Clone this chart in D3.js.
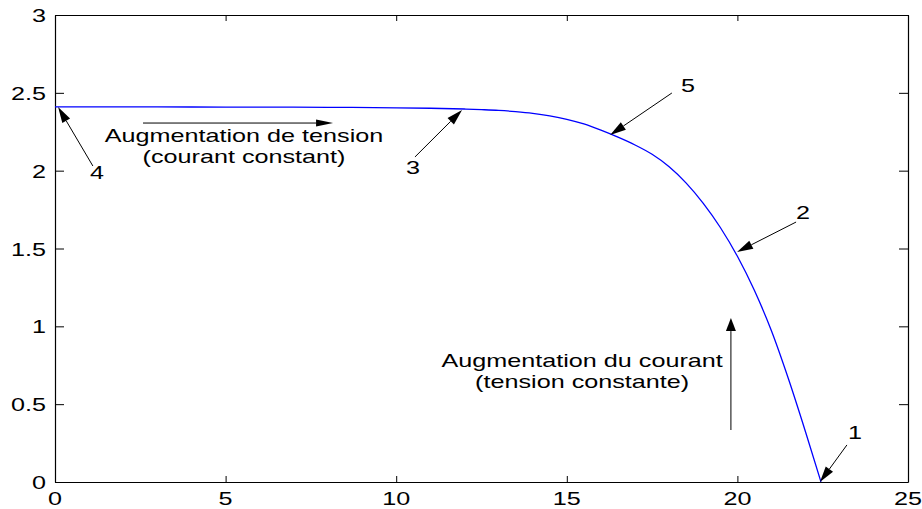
<!DOCTYPE html>
<html>
<head>
<meta charset="utf-8">
<script src="https://cdn.jsdelivr.net/npm/d3@7"></script>
<style>
  html, body { margin: 0; padding: 0; background: #fff; }
  svg { display: block; }
  text { font-family: "Liberation Sans", Arial, Helvetica, sans-serif; fill: #000; }
</style>
</head>
<body>
<svg id="chart" width="922" height="509"></svg>
<script>
// I-V characteristic of the PV generator (voltage in V, current in A)
const voltage = [0, 2, 4, 6, 8, 10, 11, 12, 12.5, 13, 13.5, 14, 14.5, 15, 15.5, 16, 16.5, 17, 17.5, 18, 18.5, 19, 19.5, 20, 20.5, 21, 21.5, 22, 22.45];
const current = [2.41, 2.4095, 2.409, 2.408, 2.407, 2.404, 2.401, 2.396, 2.392, 2.387, 2.379, 2.368, 2.352, 2.33, 2.30, 2.26, 2.215, 2.165, 2.105, 2.025, 1.92, 1.79, 1.635, 1.45, 1.23, 0.97, 0.66, 0.32, 0];

const xTicks = [0, 5, 10, 15, 20, 25];
const yTicks = [0, 0.5, 1, 1.5, 2, 2.5, 3];
const xTickLabels = ["0", "5", "10", "15", "20", "25"];
const yTickLabels = ["0", "0.5", "1", "1.5", "2", "2.5", "3"];

// Numbered operating points: arrow tip on the curve, arrow tail, label position
const pointLabels = ["4", "3", "5", "2", "1"];
const tipV  = [0.09, 11.93, 16.27, 19.99, 22.42];
const tipI  = [2.409, 2.39, 2.229, 1.477, 0.0];
const tailV = [1.11, 10.55, 18.08, 21.72, 23.21];
const tailI = [2.03, 2.088, 2.499, 1.67, 0.238];
const labV  = [1.23, 10.49, 18.55, 21.92, 23.45];
const labI  = [1.99, 2.024, 2.55, 1.734, 0.321];

// Direction arrows with their captions
const hArrowV = [2.58, 8.15], hArrowI = 2.306;
const hCaption = ["Augmentation de tension", "(courant constant)"];
const hCaptionV = 5.54, hCaptionI = [2.184, 2.05];
const vArrowV = 19.81, vArrowI = [0.334, 1.053];
const vCaption = ["Augmentation du courant", "(tension constante)"];
const vCaptionV = 15.45, vCaptionI = [0.738, 0.604];

const W = 922, H = 509;
const margin = { left: 55, top: 15, right: 14, bottom: 27 };
const sx = 1.4;           // horizontal stretch of the lettering
const fontSize = 18;

const svg = d3.select("#chart");
const x = d3.scaleLinear().domain([0, 25]).range([margin.left, W - margin.right]);
const y = d3.scaleLinear().domain([0, 3]).range([H - margin.bottom, margin.top]);

// stretched text helper
function label(g, px, py, str, anchor) {
  g.append("g")
    .attr("transform", `translate(${px},${py}) scale(${sx},1)`)
    .append("text")
    .attr("text-anchor", anchor || "middle")
    .attr("font-size", fontSize)
    .text(str);
}

// axes (ticks pointing inward, box all around)
const axes = svg.append("g");
axes.append("g")
  .attr("transform", `translate(0,${y(0)})`)
  .call(d3.axisBottom(x).tickValues(xTicks).tickSizeInner(-6).tickSizeOuter(0).tickFormat(() => ""));
axes.append("g")
  .attr("transform", `translate(0,${y(3)})`)
  .call(d3.axisTop(x).tickValues(xTicks).tickSizeInner(-6).tickSizeOuter(0).tickFormat(() => ""));
axes.append("g")
  .attr("transform", `translate(${x(0)},0)`)
  .call(d3.axisLeft(y).tickValues(yTicks).tickSizeInner(-9).tickSizeOuter(0).tickFormat(() => ""));
axes.append("g")
  .attr("transform", `translate(${x(25)},0)`)
  .call(d3.axisRight(y).tickValues(yTicks).tickSizeInner(-9).tickSizeOuter(0).tickFormat(() => ""));
axes.selectAll("path.domain").attr("stroke", "#000").attr("stroke-width", 1.2);
axes.selectAll(".tick line").attr("stroke", "#000").attr("stroke-width", 1);

// tick labels
const tl = svg.append("g");
xTicks.forEach((v, i) => label(tl, x(v), y(0) + 23, xTickLabels[i], "middle"));
yTicks.forEach((v, i) => label(tl, x(0) - 9, y(v) + 7, yTickLabels[i], "end"));

// curve
const pts = voltage.map((v, i) => [v, current[i]]);
svg.append("path")
  .datum(pts)
  .attr("fill", "none")
  .attr("stroke", "#0000ff")
  .attr("stroke-width", 1.3)
  .attr("d", d3.line().x(d => x(d[0])).y(d => y(d[1])).curve(d3.curveMonotoneX));

// arrow drawing
function arrow(g, x1, y1, x2, y2, headLen, headHalf) {
  const dx = x2 - x1, dy = y2 - y1, L = Math.hypot(dx, dy);
  const ux = dx / L, uy = dy / L;
  const bx = x2 - ux * headLen, by = y2 - uy * headLen;
  g.append("line").attr("x1", x1).attr("y1", y1).attr("x2", bx).attr("y2", by)
    .attr("stroke", "#000").attr("stroke-width", 1);
  g.append("path")
    .attr("d", `M${x2},${y2}L${bx - uy * headHalf},${by + ux * headHalf}L${bx + uy * headHalf},${by - ux * headHalf}Z`)
    .attr("fill", "#000");
}

const ann = svg.append("g");
pointLabels.forEach((s, i) => {
  arrow(ann, x(tailV[i]), y(tailI[i]), x(tipV[i]), y(tipI[i]), 16, 4.5);
  label(ann, x(labV[i]), y(labI[i]) + 7, s, "middle");
});

arrow(ann, x(hArrowV[0]), y(hArrowI), x(hArrowV[1]), y(hArrowI), 17, 3.5);
hCaption.forEach((s, i) => label(ann, x(hCaptionV), y(hCaptionI[i]), s, "middle"));

arrow(ann, x(vArrowV), y(vArrowI[0]), x(vArrowV), y(vArrowI[1]), 13, 5);
vCaption.forEach((s, i) => label(ann, x(vCaptionV), y(vCaptionI[i]), s, "middle"));
</script>
</body>
</html>
